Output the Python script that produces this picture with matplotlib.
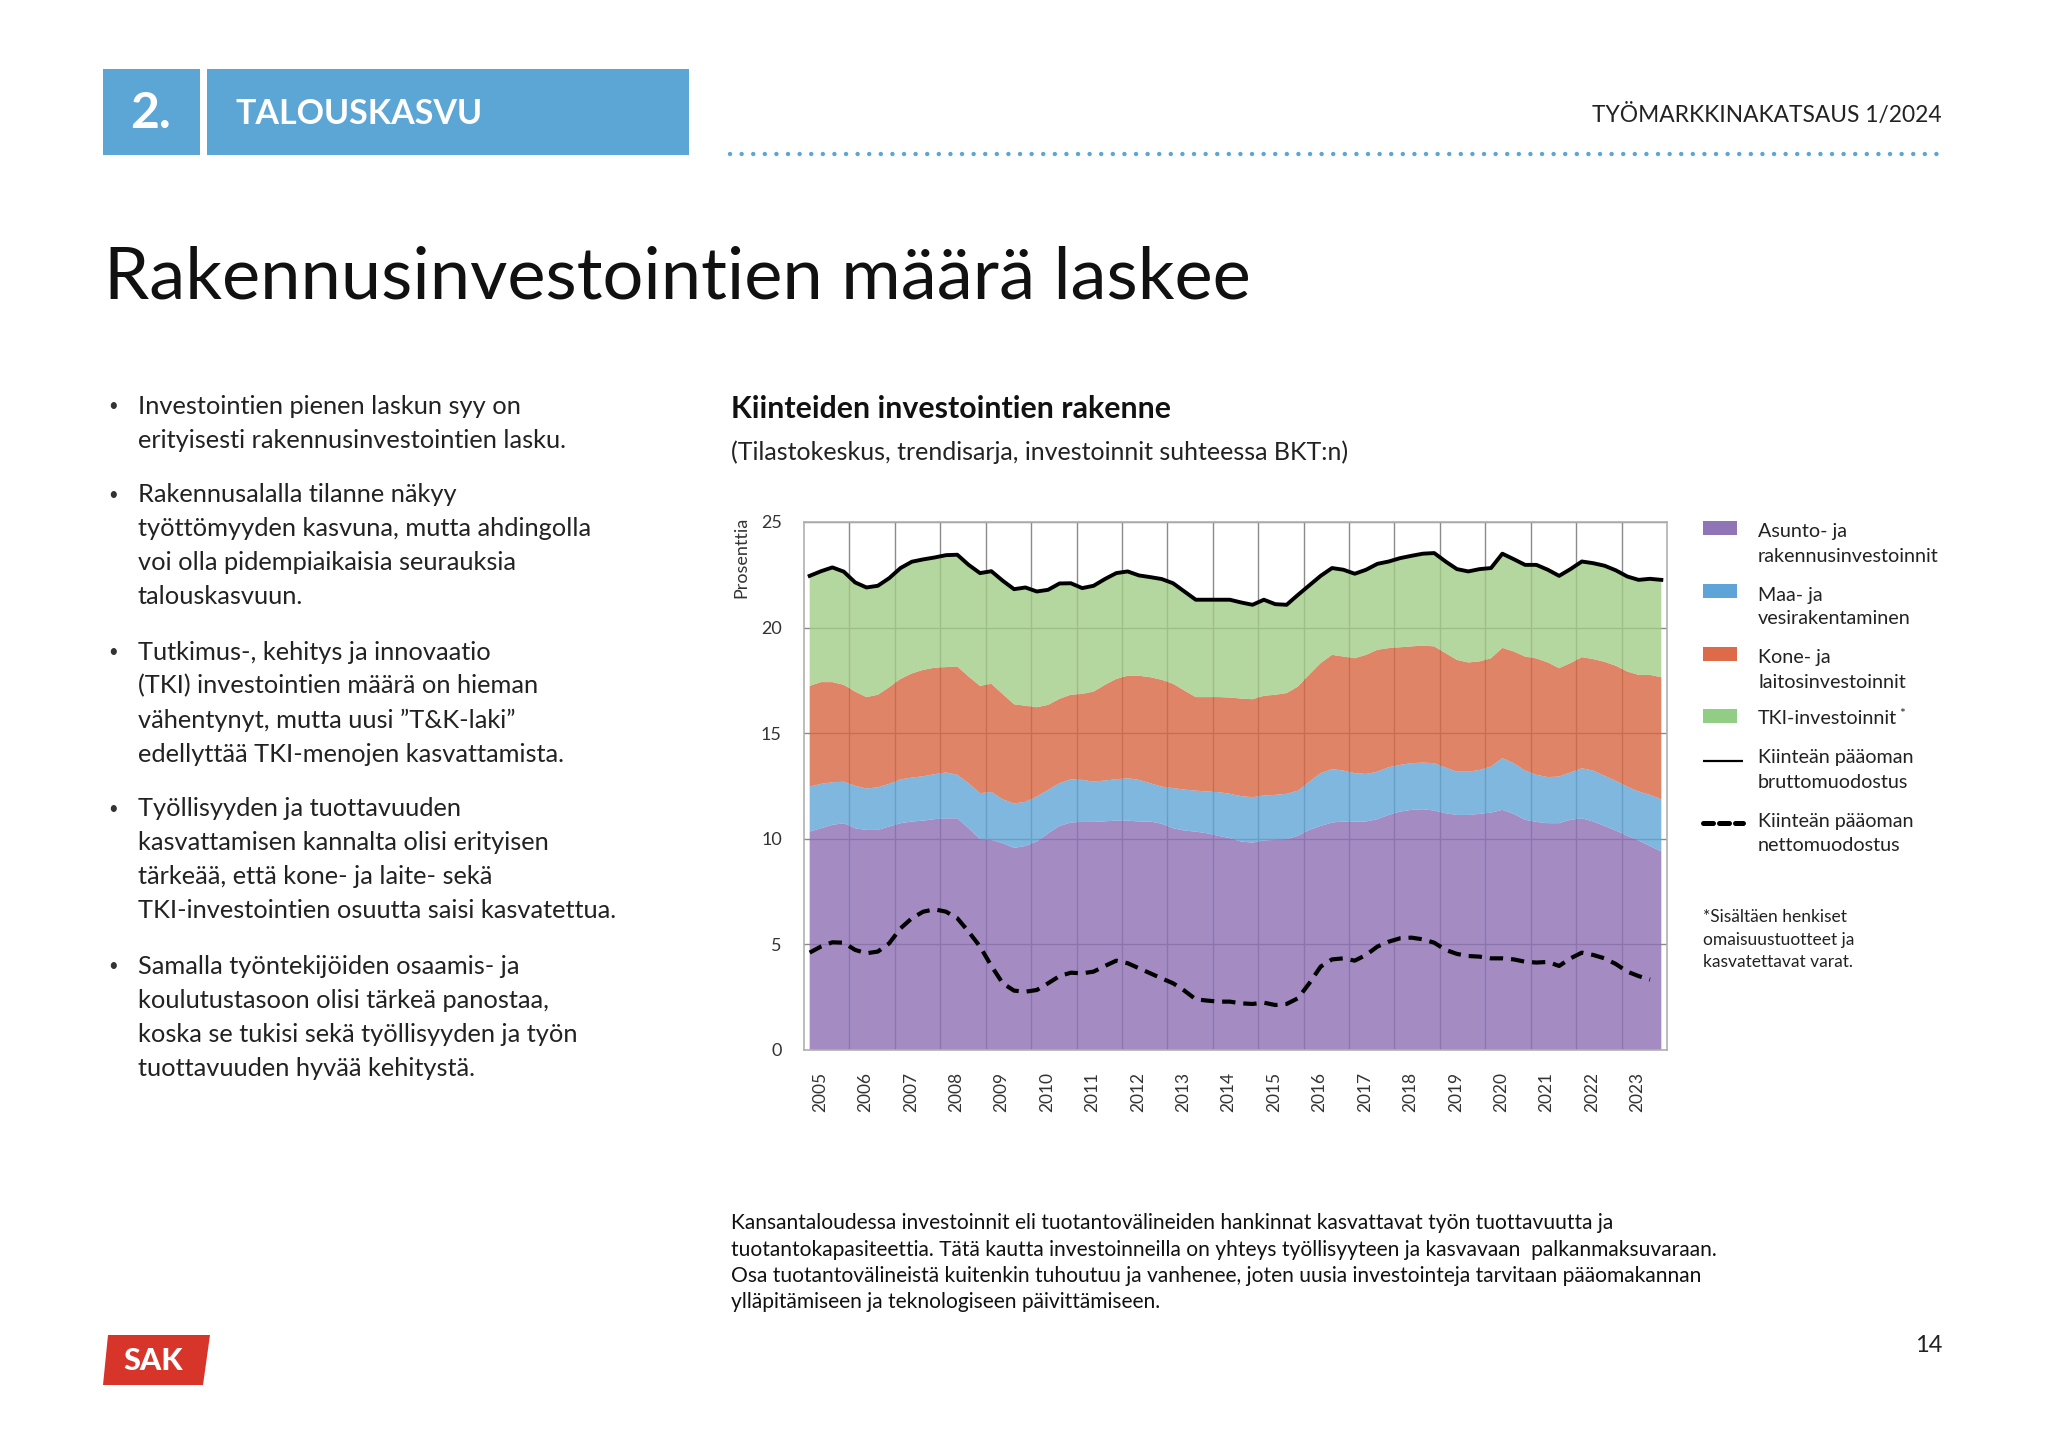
import numpy as np
import matplotlib
matplotlib.use("Agg")
import matplotlib.pyplot as plt
from matplotlib.patches import Rectangle, Polygon
from matplotlib.lines import Line2D

# ---------------- data (quarterly 2005Q1 - 2023Q4, % of GDP) ----------------
start_year = 2005
asunto = [10.34, 10.50, 10.66, 10.74, 10.50, 10.42, 10.42, 10.58, 10.74, 10.82,
          10.86, 10.93, 10.97, 10.97, 10.50, 9.98, 9.95, 9.79, 9.57, 9.66,
          9.87, 10.26, 10.61, 10.77, 10.80, 10.80, 10.83, 10.86, 10.86, 10.82,
          10.82, 10.71, 10.50, 10.39, 10.34, 10.26, 10.14, 10.03, 9.87, 9.82,
          9.92, 9.95, 9.98, 10.14, 10.42, 10.61, 10.77, 10.82, 10.82, 10.82,
          10.93, 11.13, 11.29, 11.37, 11.40, 11.34, 11.21, 11.13, 11.13, 11.18,
          11.24, 11.37, 11.18, 10.90, 10.80, 10.74, 10.74, 10.90, 10.97, 10.82,
          10.61, 10.39, 10.14, 9.92, 9.66, 9.40]
maa = [2.13, 2.10, 2.02, 1.96, 2.01, 1.96, 2.02, 2.02, 2.07, 2.08,
       2.10, 2.13, 2.17, 2.06, 2.13, 2.18, 2.27, 2.08, 2.10, 2.09,
       2.13, 2.06, 2.02, 2.05, 1.99, 1.91, 1.93, 1.96, 2.01, 1.97,
       1.81, 1.76, 1.90, 1.94, 1.94, 1.98, 2.07, 2.10, 2.15, 2.15,
       2.13, 2.13, 2.15, 2.14, 2.28, 2.50, 2.53, 2.41, 2.29, 2.25,
       2.25, 2.26, 2.21, 2.21, 2.21, 2.24, 2.16, 2.05, 2.05, 2.08,
       2.18, 2.45, 2.40, 2.33, 2.23, 2.18, 2.21, 2.24, 2.37, 2.41,
       2.37, 2.35, 2.33, 2.32, 2.42, 2.47]
kone = [4.77, 4.82, 4.74, 4.59, 4.46, 4.33, 4.38, 4.58, 4.76, 4.93,
        5.04, 5.04, 4.99, 5.13, 5.05, 5.08, 5.12, 4.98, 4.70, 4.55,
        4.23, 4.02, 4.00, 4.00, 4.07, 4.26, 4.53, 4.75, 4.85, 4.93,
        5.02, 5.06, 4.94, 4.69, 4.43, 4.47, 4.50, 4.56, 4.62, 4.64,
        4.72, 4.74, 4.77, 4.93, 5.08, 5.21, 5.41, 5.40, 5.44, 5.64,
        5.77, 5.64, 5.57, 5.53, 5.54, 5.53, 5.42, 5.29, 5.17, 5.14,
        5.13, 5.22, 5.29, 5.40, 5.51, 5.43, 5.13, 5.18, 5.26, 5.28,
        5.40, 5.45, 5.45, 5.52, 5.68, 5.78]
tki = [5.21, 5.25, 5.43, 5.36, 5.17, 5.19, 5.16, 5.16, 5.25, 5.29,
       5.23, 5.22, 5.30, 5.29, 5.29, 5.34, 5.33, 5.37, 5.45, 5.60,
       5.48, 5.45, 5.46, 5.28, 5.01, 5.01, 5.01, 5.01, 4.94, 4.75,
       4.74, 4.77, 4.76, 4.69, 4.61, 4.61, 4.61, 4.63, 4.55, 4.47,
       4.55, 4.29, 4.18, 4.34, 4.22, 4.13, 4.11, 4.11, 4.00, 4.03,
       4.07, 4.10, 4.22, 4.29, 4.35, 4.42, 4.34, 4.30, 4.31, 4.37,
       4.27, 4.46, 4.37, 4.34, 4.43, 4.39, 4.37, 4.45, 4.53, 4.54,
       4.55, 4.52, 4.50, 4.50, 4.55, 4.61]
netto = [4.61, 4.90, 5.10, 5.08, 4.74, 4.58, 4.66, 5.05, 5.76, 6.24,
         6.55, 6.66, 6.55, 6.24, 5.60, 4.90, 3.98, 3.16, 2.81, 2.76,
         2.84, 3.16, 3.50, 3.66, 3.63, 3.71, 3.98, 4.23, 4.11, 3.87,
         3.63, 3.39, 3.16, 2.81, 2.40, 2.34, 2.29, 2.29, 2.21, 2.18,
         2.24, 2.13, 2.18, 2.45, 3.16, 3.95, 4.29, 4.34, 4.23, 4.50,
         4.90, 5.13, 5.29, 5.32, 5.24, 5.08, 4.74, 4.55, 4.45, 4.42,
         4.34, 4.34, 4.29, 4.18, 4.14, 4.17, 3.98, 4.34, 4.61, 4.50,
         4.34, 4.07, 3.71, 3.50, 3.33]
year_labels = [str(y) for y in range(2005, 2024)]
y_ticks = [0, 5, 10, 15, 20, 25]

series_names = ["Asunto- ja\nrakennusinvestoinnit", "Maa- ja\nvesirakentaminen",
                "Kone- ja\nlaitosinvestoinnit", "TKI-investoinnit"]
line_names = ["Kiinteän pääoman\nbruttomuodostus", "Kiinteän pääoman\nnettomuodostus"]

bullets = [
    ["Investointien pienen laskun syy on", "erityisesti rakennusinvestointien lasku."],
    ["Rakennusalalla tilanne näkyy", "työttömyyden kasvuna, mutta ahdingolla",
     "voi olla pidempiaikaisia seurauksia", "talouskasvuun."],
    ["Tutkimus-, kehitys ja innovaatio", "(TKI) investointien määrä on hieman",
     "vähentynyt, mutta uusi \u201dT&K-laki\u201d", "edellyttää TKI-menojen kasvattamista."],
    ["Työllisyyden ja tuottavuuden", "kasvattamisen kannalta olisi erityisen",
     "tärkeää, että kone- ja laite- sekä", "TKI-investointien osuutta saisi kasvatettua."],
    ["Samalla työntekijöiden osaamis- ja", "koulutustasoon olisi tärkeä panostaa,",
     "koska se tukisi sekä työllisyyden ja työn", "tuottavuuden hyvää kehitystä."],
]
bottom_text = [
    "Kansantaloudessa investoinnit eli tuotantovälineiden hankinnat kasvattavat työn tuottavuutta ja",
    "tuotantokapasiteettia. Tätä kautta investoinneilla on yhteys työllisyyteen ja kasvavaan  palkanmaksuvaraan.",
    "Osa tuotantovälineistä kuitenkin tuhoutuu ja vanhenee, joten uusia investointeja tarvitaan pääomakannan",
    "ylläpitämiseen ja teknologiseen päivittämiseen.",
]

# ---------------- styling ----------------
FONT = "Lato"
plt.rcParams["font.family"] = [FONT, "DejaVu Sans"]
fill_colors = ["#8d6fb5", "#5fa5d6", "#d86640", "#a2cc87"]
legend_colors = ["#8f74b6", "#5fa4d8", "#dd6a48", "#92cd86"]
HEADER_BLUE = "#5ca6d6"

W, H = 2048, 1448
fig = plt.figure(figsize=(W / 100, H / 100), dpi=100)


def fx(x):
    return x / W


def fy(y):
    return 1 - y / H


def ftext(x, y, s, **kw):
    kw.setdefault("va", "center")
    return fig.text(fx(x), fy(y), s, **kw)


def frect(x0, y0, x1, y1, color):
    fig.add_artist(Rectangle((fx(x0), fy(y1)), fx(x1) - fx(x0), fy(y0) - fy(y1),
                             transform=fig.transFigure, facecolor=color,
                             edgecolor="none"))


# header
frect(103, 69, 200, 155, HEADER_BLUE)
frect(207, 69, 689, 155, HEADER_BLUE)
ftext(151, 114, "2.", color="white", fontsize=36, fontweight="bold", ha="center")
ftext(236, 114, "TALOUSKASVU", color="white", fontsize=24.5, fontweight="bold", ha="left")
ftext(1942, 115, "TYÖMARKKINAKATSAUS 1/2024", color="#222222", fontsize=16.4, ha="right")
fig.add_artist(Line2D([fx(730), fx(1944)], [fy(154), fy(154)], transform=fig.transFigure,
                      color=HEADER_BLUE, lw=3.2, linestyle=(0, (0.01, 2.6)),
                      dash_capstyle="round"))

# main title
ftext(104, 278, "Rakennusinvestointien määrä laskee", color="#111111",
      fontsize=52, fontweight="normal", ha="left")

# bullets
line_h = 34
y = 406
for b in bullets:
    ftext(108, y, "\u2022", fontsize=12, color="#333333", ha="left")
    for ln in b:
        ftext(138, y, ln, fontsize=18.3, color="#222222", ha="left")
        y += line_h
    y += 21

# chart title and subtitle
ftext(731, 409, "Kiinteiden investointien rakenne", fontsize=21.8, fontweight="bold",
      color="#111111", ha="left")
ftext(731, 452, "(Tilastokeskus, trendisarja, investoinnit suhteessa BKT:n)",
      fontsize=18, color="#222222", ha="left")

# ---------------- chart ----------------
ax = fig.add_axes([fx(804), fy(1050), fx(1667) - fx(804), fy(522) - fy(1050)])
n = len(asunto)
xq = start_year + (np.arange(n) + 0.5) / 4.0
stack = np.vstack([asunto, maa, kone, tki])
ax.stackplot(xq, stack, colors=fill_colors, alpha=0.8, linewidth=0, zorder=2)
brutto = stack.sum(axis=0)
ax.plot(xq, brutto, color="black", lw=2.8, zorder=4, solid_joinstyle="round")
xn = start_year + (np.arange(len(netto)) + 0.5) / 4.0
ax.plot(xn, netto, color="black", lw=3.0, linestyle=(0, (3.2, 1.9)), zorder=4,
        dash_capstyle="butt")

ax.set_xlim(start_year, start_year + len(year_labels))
ax.set_ylim(0, 25)
ax.set_yticks(y_ticks)
ax.set_yticklabels([str(v) for v in y_ticks], fontsize=13, color="#333333")
ax.set_xticks(np.arange(len(year_labels)) + start_year + 0.35)
ax.set_xticklabels(year_labels, rotation=90, fontsize=12.5, color="#333333")
ax.set_xticks(np.arange(start_year + 1, start_year + len(year_labels)), minor=True)
ax.tick_params(axis="both", which="both", length=0)
ax.tick_params(axis="y", pad=16)
ax.tick_params(axis="x", pad=16)
ax.grid(True, axis="y", color="#8a8a8a", lw=1.0, zorder=1)
ax.grid(True, axis="x", which="minor", color="#8a8a8a", lw=1.0, zorder=1)
ax.grid(False, axis="x", which="major")
ax.set_axisbelow(True)
for sp in ax.spines.values():
    sp.set_color("#b0b0b0")
    sp.set_linewidth(1.2)
ftext(741, 557, "Prosenttia", fontsize=13, color="#333333", rotation=90, ha="center")

# ---------------- legend ----------------
renderer = fig.canvas.get_renderer()
patch_y = [528, 591, 654, 716]
text_y = [532, 595, 658, 719]
LFS = 14.2
for i in range(4):
    frect(1703, patch_y[i] - 7, 1737, patch_y[i] + 7, legend_colors[i])
    lines = series_names[i].split("\n")
    for k, ln in enumerate(lines):
        t = ftext(1758, text_y[i] + 24 * k, ln, fontsize=LFS, color="#222222", ha="left")
    if i == 3:
        bb = t.get_window_extent(renderer)
        fig.text(bb.x1 / W + 2 / W, fy(text_y[i] - 5), "*", fontsize=10,
                 color="#222222", ha="left", va="center")
line_y = [761, 823]
line_text_y = [758, 821]
styles = ["-", (0, (2.0, 1.2))]
for i in range(2):
    fig.add_artist(Line2D([fx(1703), fx(1743)], [fy(line_y[i]), fy(line_y[i])],
                          transform=fig.transFigure, color="black",
                          lw=1.6 if i == 0 else 3.6, linestyle=styles[i],
                          solid_capstyle="butt", dash_capstyle="round"))
    for k, ln in enumerate(line_names[i].split("\n")):
        ftext(1758, line_text_y[i] + 24 * k, ln, fontsize=LFS, color="#222222", ha="left")

ftext(1703, 917, "*Sisältäen henkiset", fontsize=12.5, color="#222222", ha="left")
ftext(1703, 940, "omaisuustuotteet ja", fontsize=12.5, color="#222222", ha="left")
ftext(1703, 962, "kasvatettavat varat.", fontsize=12.5, color="#222222", ha="left")

# bottom paragraph
for k, ln in enumerate(bottom_text):
    ftext(731, 1223 + 26.5 * k, ln, fontsize=15.1, color="#111111", ha="left")

# page number
ftext(1942, 1346, "14", fontsize=17, color="#222222", ha="right")

# SAK logo
fig.add_artist(Polygon([(fx(108), fy(1335)), (fx(210), fy(1335)), (fx(203), fy(1385)),
                        (fx(103), fy(1385))], closed=True, transform=fig.transFigure,
                       facecolor="#d7342a", edgecolor="none"))
ftext(153, 1361, "SAK", fontsize=22, fontweight="black", color="white", ha="center")

fig.savefig("out.png", dpi=100, facecolor="white")
